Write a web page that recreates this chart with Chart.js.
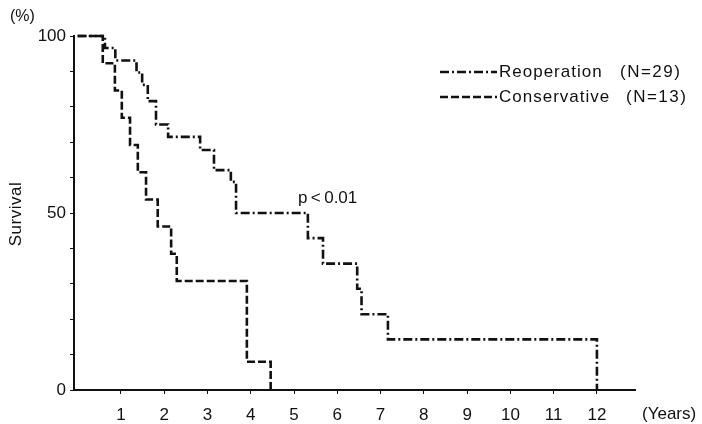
<!DOCTYPE html>
<html>
<head>
<meta charset="utf-8">
<script src="https://cdn.jsdelivr.net/npm/chart.js@4"></script>
<style>
  html, body { margin: 0; padding: 0; background: #fff; }
  #wrap { width: 702px; height: 424px; }
</style>
</head>
<body>
<div id="wrap"><canvas id="myChart" width="702" height="424"></canvas></div>
<script>
// Kaplan-Meier survival (years, %)
var reopTimes = [0, 0.63, 0.87, 1.36, 1.49, 1.62, 1.81, 2.09, 2.83, 3.15, 3.54, 3.66, 5.32, 5.67, 6.46, 6.56, 7.17, 12.0];
var reopSurv  = [100, 96.6, 93.1, 89.7, 86.2, 81.6, 75.0, 71.5, 67.8, 62.1, 58.8, 50.0, 42.9, 35.7, 28.6, 21.4, 14.3, 0];
var consTimes = [0, 0.58, 0.86, 1.02, 1.21, 1.39, 1.58, 1.85, 2.16, 2.29, 3.91, 4.46];
var consSurv  = [100, 92.3, 84.6, 76.9, 69.2, 61.5, 53.8, 46.2, 38.5, 30.8, 8.0, 0];
var xTicks = [1, 2, 3, 4, 5, 6, 7, 8, 9, 10, 11, 12];
var yLabels = [0, 50, 100];
var seriesNames = ['Reoperation', 'Conservative'];
var seriesN = ['(N=29)', '(N=13)'];

function pts(t, s) {
  var out = [];
  for (var i = 0; i < t.length; i++) out.push({x: t[i], y: s[i]});
  return out;
}

var FONT = '"Liberation Sans", Arial, sans-serif';
var INK = '#111';

var textPlugin = {
  id: 'texts',
  afterDraw: function(chart) {
    var c = chart.ctx;
    c.save();
    c.fillStyle = INK;
    c.font = '16px ' + FONT;
    c.textBaseline = 'middle';
    c.textAlign = 'left';
    c.fillText('(%)', 10, 17);
    c.font = '17px ' + FONT;
    c.fillText('(Years)', 642, 414);
    c.fillText('p\u2009<\u20090.01', 298, 198);
    // Survival label
    c.save();
    c.translate(16, 214);
    c.rotate(-Math.PI / 2);
    c.textAlign = 'center';
    c.font = '17px ' + FONT;
    c.letterSpacing = '0.5px';
    c.fillText('Survival', 0, 0);
    c.restore();
    // legend
    var ly = [72, 97];
    var nx = [620, 626];
    chart.data.datasets.forEach(function(ds, i) {
      c.strokeStyle = INK;
      c.lineWidth = 2.5;
      c.setLineDash(ds.borderDash);
      c.beginPath();
      c.moveTo(440, ly[i]);
      c.lineTo(497, ly[i]);
      c.stroke();
      c.setLineDash([]);
      c.font = '17px ' + FONT;
      c.letterSpacing = '1px';
      c.fillText(ds.label, 499, ly[i]);
      c.letterSpacing = '1.5px';
      c.fillText(seriesN[i], nx[i], ly[i]);
      c.letterSpacing = '0px';
    });
    c.restore();
  }
};

var ctx = document.getElementById('myChart').getContext('2d');
var myChart = new Chart(ctx, {
  type: 'line',
  data: {
    datasets: [{
      label: seriesNames[0],
      data: pts(reopTimes, reopSurv),
      stepped: 'before',
      borderColor: INK,
      borderWidth: 2.6,
      borderDash: [9, 3, 2, 3],
      pointRadius: 0,
      fill: false,
      clip: 6
    }, {
      label: seriesNames[1],
      data: pts(consTimes, consSurv),
      stepped: 'before',
      borderColor: INK,
      borderWidth: 2.6,
      borderDash: [8, 3],
      pointRadius: 0,
      fill: false,
      clip: 6
    }]
  },
  options: {
    responsive: false,
    animation: false,
    layout: { padding: { top: 36, right: 67, left: 0, bottom: 0 } },
    plugins: { legend: { display: false }, tooltip: { enabled: false } },
    scales: {
      x: {
        type: 'linear',
        min: -0.085,
        max: 12.88,
        afterBuildTicks: function(scale) {
          scale.ticks = xTicks.map(function(v) { return {value: v}; });
        },
        afterFit: function(scale) { scale.height = 34; },
        grid: { drawOnChartArea: false, drawTicks: true, tickLength: 4, color: INK },
        border: { color: INK, width: 2 },
        ticks: { color: INK, font: { family: FONT, size: 17 }, padding: 11, maxRotation: 0, autoSkip: false }
      },
      y: {
        min: 0,
        max: 100,
        afterBuildTicks: function(scale) {
          var t = [];
          for (var v = 0; v <= 100; v += 10) t.push({value: v});
          scale.ticks = t;
        },
        afterFit: function(scale) { scale.width = 74; },
        grid: { drawOnChartArea: false, drawTicks: true, tickLength: 4, color: INK },
        border: { color: INK, width: 2 },
        ticks: {
          color: INK,
          font: { family: FONT, size: 17 },
          padding: 4,
          autoSkip: false,
          callback: function(v) { return yLabels.indexOf(v) >= 0 ? String(v) : ''; }
        }
      }
    }
  },
  plugins: [textPlugin]
});
</script>
</body>
</html>
